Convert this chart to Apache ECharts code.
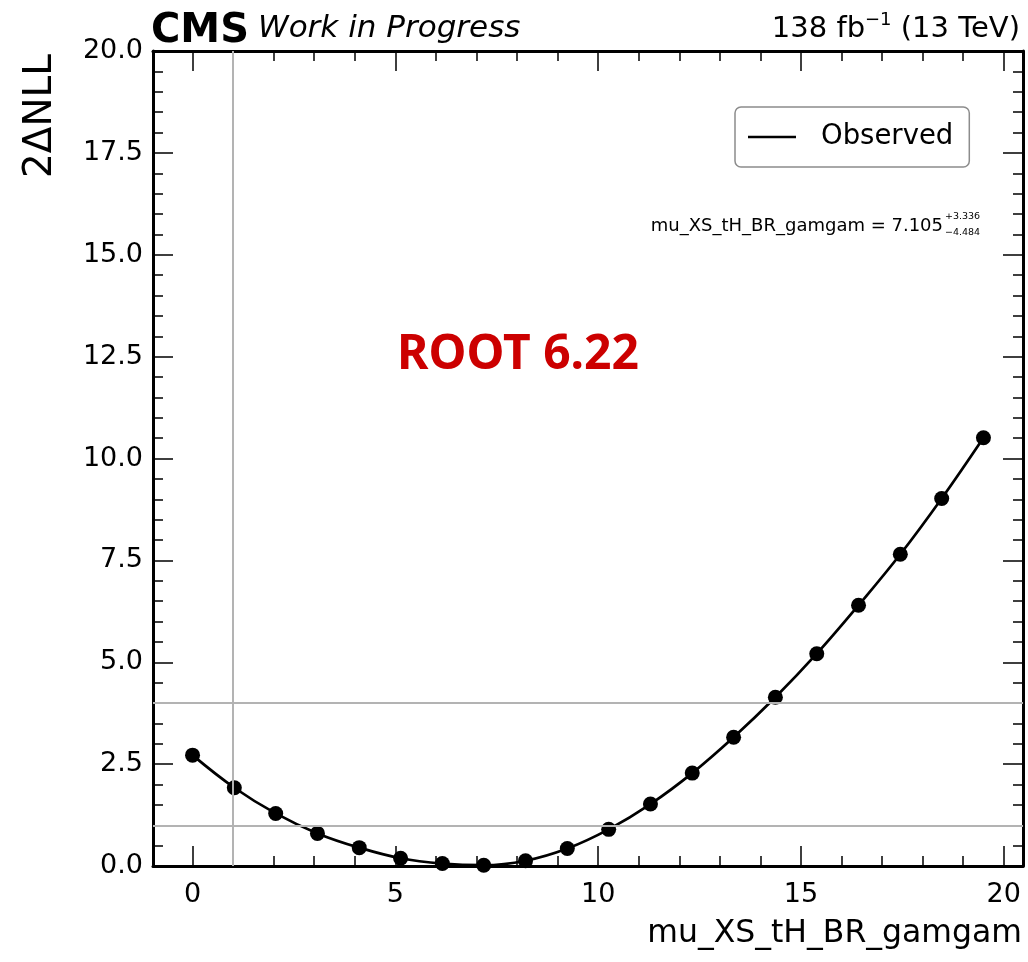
<!DOCTYPE html>
<html>
<head>
<meta charset="utf-8">
<script src="https://cdn.jsdelivr.net/npm/echarts@6/dist/echarts.min.js"></script>
<style>
  html, body { margin: 0; padding: 0; background: #fff; }
  #chart { width: 1028px; height: 962px; }
</style>
</head>
<body>
<div id="chart"></div>
<script>
// Likelihood scan of mu_XS_tH_BR_gamgam
const muValues  = [0, 1.03, 2.05, 3.08, 4.11, 5.13, 6.16, 7.18, 8.21, 9.24,
                   10.26, 11.29, 12.32, 13.34, 14.37, 15.39, 16.42, 17.45, 18.47, 19.50];
const nllValues = [2.72, 1.92, 1.29, 0.80, 0.45, 0.19, 0.06, 0.02, 0.13, 0.43,
                   0.90, 1.52, 2.28, 3.16, 4.14, 5.21, 6.40, 7.65, 9.02, 10.51];

// Axis ticks
const xMajorTicks = [0, 5, 10, 15, 20];
const xMinorTicks = [1, 2, 3, 4, 6, 7, 8, 9, 11, 12, 13, 14, 16, 17, 18, 19];
const yMin = 0, yMax = 20, yStep = 2.5;

// Reference levels (SM value, 1 and 2 sigma)
const refX = [1];
const refY = [1, 4];

// Fit result
const fitName = 'mu_XS_tH_BR_gamgam';
const fitValue = '7.105';
const fitUp = '+3.336';
const fitDown = '\u22124.484';

const FONT = 'DejaVu Sans';
const xMin = -0.975, xMax = 20.475;

const points = muValues.map((m, i) => [m, nllValues[i]]);

function xAxisDef(position, ticks, len, showLine, showLabel) {
  return {
    type: 'value', position: position, min: xMin, max: xMax,
    axisLine: { show: showLine, onZero: false, lineStyle: { color: '#000', width: 3 } },
    axisTick: { show: true, inside: true, length: len, customValues: ticks,
                lineStyle: { color: '#000', width: 1.5 } },
    axisLabel: { show: showLabel, customValues: ticks, fontSize: 27, fontFamily: FONT,
                 color: '#000', margin: 15 },
    splitLine: { show: false }
  };
}
function yAxisDef(position, showLabel) {
  return {
    type: 'value', position: position, min: yMin, max: yMax, interval: yStep,
    axisLine: { show: true, onZero: false, lineStyle: { color: '#000', width: 3 } },
    axisTick: { show: true, inside: true, length: 20, lineStyle: { color: '#000', width: 1.5 } },
    minorTick: { show: true, splitNumber: 5, length: 10, lineStyle: { color: '#000', width: 1.5 } },
    axisLabel: { show: showLabel, fontSize: 27, fontFamily: FONT, color: '#000', margin: 10,
                 formatter: v => v.toFixed(1) },
    splitLine: { show: false },
    minorSplitLine: { show: false }
  };
}

const chart = echarts.init(document.getElementById('chart'), null, { renderer: 'canvas' });
chart.setOption({
  animation: false,
  backgroundColor: '#fff',
  grid: { left: 153, right: 5, top: 51, bottom: 96, containLabel: false },
  xAxis: [
    xAxisDef('bottom', xMajorTicks, 20, true, true),
    xAxisDef('bottom', xMinorTicks, 10, false, false),
    xAxisDef('top', xMajorTicks, 20, true, false),
    xAxisDef('top', xMinorTicks, 10, false, false)
  ],
  yAxis: [
    yAxisDef('left', true),
    yAxisDef('right', false)
  ],
  legend: {
    left: 735, top: 107,
    data: [{ name: 'Observed', icon: 'rect' }],
    itemWidth: 48, itemHeight: 2.5,
    itemStyle: { color: '#000' },
    padding: [16, 16, 16, 13],
    borderColor: '#8c8c8c', borderWidth: 1.5, borderRadius: 6,
    textStyle: { fontSize: 27.5, fontFamily: FONT, color: '#000', padding: [0, 0, 0, 20] }
  },
  series: [
    {
      name: 'reference',
      type: 'line', data: [], silent: true, z: 1,
      markLine: {
        silent: true, symbol: ['none', 'none'], label: { show: false },
        lineStyle: { color: '#b3b3b3', width: 2, type: 'solid' },
        emphasis: { disabled: true },
        data: refX.map(v => ({ xAxis: v })).concat(refY.map(v => ({ yAxis: v })))
      }
    },
    {
      name: 'Observed',
      type: 'line', data: points, smooth: 0.4, symbol: 'none', z: 3,
      lineStyle: { color: '#000', width: 2.7 },
      itemStyle: { color: '#000' }
    },
    {
      name: 'scan points',
      type: 'scatter', data: points, symbol: 'circle', symbolSize: 15, z: 4,
      itemStyle: { color: '#000', opacity: 1 }
    }
  ],
  graphic: [
    { type: 'text', left: 151, top: 12,
      style: { text: 'CMS', font: 'bold 40px "DejaVu Sans"', fill: '#000' } },
    { type: 'text', left: 258, top: 13,
      style: { text: 'Work in Progress', font: 'italic 31px "DejaVu Sans"', fill: '#000' } },
    { type: 'text', right: 8, top: 11,
      style: {
        text: '{a|138 fb}{s|\u22121}{a| (13 TeV)}',
        rich: {
          a: { fontSize: 29, fontFamily: FONT, fill: '#000', lineHeight: 36 },
          s: { fontSize: 18, fontFamily: FONT, fill: '#000', verticalAlign: 'top', lineHeight: 36, padding: [0, 0, 14, 0] }
        }
      } },
    { type: 'text', x: 41, y: 116, rotation: Math.PI / 2,
      style: { text: '2\u0394NLL', fontSize: 39, fontFamily: FONT, fill: '#000',
               align: 'center', verticalAlign: 'middle' } },
    { type: 'text', x: 1022, y: 934,
      style: { text: fitName, fontSize: 31.5, fontFamily: FONT, fill: '#000',
               align: 'right', verticalAlign: 'middle' } },
    { type: 'text', x: 943, y: 226,
      style: { text: fitName + ' = ' + fitValue, fontSize: 18, fontFamily: FONT, fill: '#000',
               align: 'right', verticalAlign: 'middle' } },
    { type: 'text', x: 945, y: 217,
      style: { text: fitUp, fontSize: 9.5, fontFamily: FONT, fill: '#000',
               align: 'left', verticalAlign: 'middle' } },
    { type: 'text', x: 945, y: 233,
      style: { text: fitDown, fontSize: 9.5, fontFamily: FONT, fill: '#000',
               align: 'left', verticalAlign: 'middle' } },
    { type: 'text', x: 518, y: 355,
      style: { text: 'ROOT 6.22', font: 'bold 48px "Noto Sans"', fill: '#cc0000',
               align: 'center', verticalAlign: 'middle' } }
  ]
});
</script>
</body>
</html>
